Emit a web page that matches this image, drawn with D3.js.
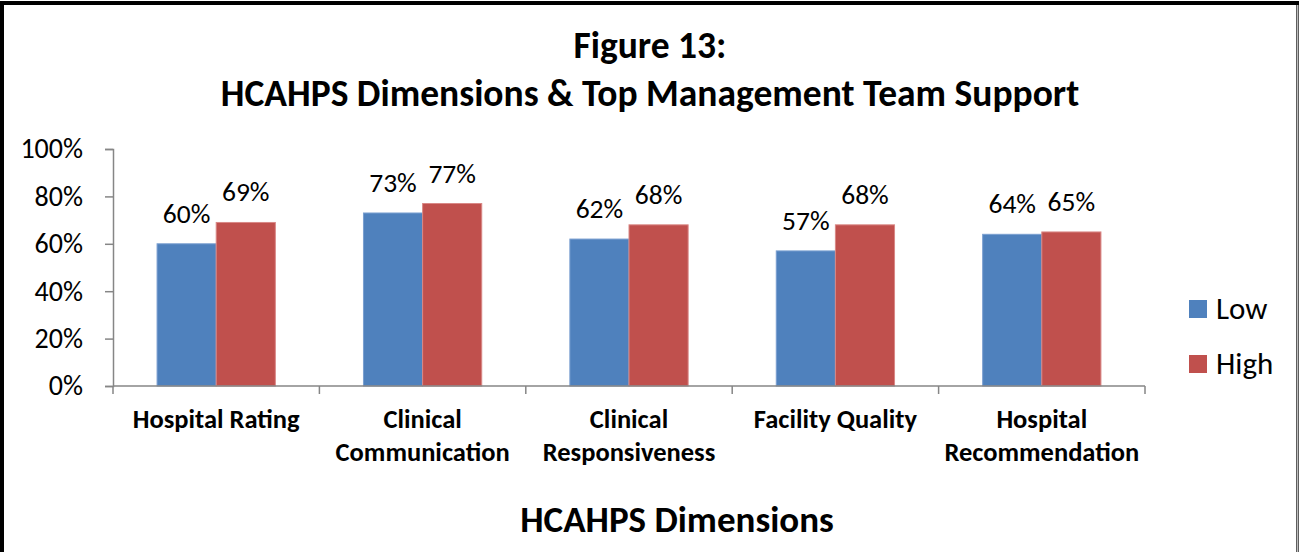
<!DOCTYPE html>
<html>
<head>
<meta charset="utf-8">
<script src="https://cdn.jsdelivr.net/npm/d3@7"></script>
<style>
  body { margin: 0; background: #fff; }
  svg { display: block; font-family: Calibri, Carlito, Lato, sans-serif; }
</style>
</head>
<body>
<div id="chart"></div>
<script>
/* DATA */
const categories = [
  ["Hospital Rating"],
  ["Clinical", "Communication"],
  ["Clinical", "Responsiveness"],
  ["Facility Quality"],
  ["Hospital", "Recommendation"]
];
const seriesNames = ["Low", "High"];
const lowValues = [0.60, 0.73, 0.62, 0.57, 0.64];
const highValues = [0.69, 0.77, 0.68, 0.68, 0.65];
const yTicks = [0, 0.2, 0.4, 0.6, 0.8, 1.0];
const colors = ["#4F81BD", "#C0504D"];

/* CONSTANTS */
const width = 1299, height = 552;
const plot = { left: 113, right: 1145, top: 149, bottom: 386 };

const svg = d3.select("#chart")
  .append("svg")
  .attr("width", width)
  .attr("height", height);

// frame
svg.append("rect")
  .attr("x", 2).attr("y", 3)
  .attr("width", width - 3).attr("height", height + 10)
  .attr("fill", "#fff")
  .attr("stroke", "#000")
  .attr("stroke-width", 4);
svg.append("line")
  .attr("x1", width - 1.5).attr("x2", width - 1.5)
  .attr("y1", 5).attr("y2", height)
  .attr("stroke", "#bdbdbd").attr("stroke-width", 2);

// scales
const x0 = d3.scaleBand()
  .domain(d3.range(categories.length))
  .range([plot.left, plot.right])
  .paddingInner(0.427)
  .paddingOuter(0.2135);
const x1 = d3.scaleBand()
  .domain(seriesNames)
  .range([0, x0.bandwidth()]);
const y = d3.scaleLinear()
  .domain([0, 1])
  .range([plot.bottom, plot.top]);

const rows = categories.map((c, i) => ({
  i,
  values: [
    { key: "Low", value: lowValues[i] },
    { key: "High", value: highValues[i] }
  ]
}));

// bars
const groups = svg.selectAll("g.grp")
  .data(rows)
  .join("g")
  .attr("class", "grp")
  .attr("transform", d => `translate(${x0(d.i)},0)`);

groups.selectAll("rect")
  .data(d => d.values)
  .join("rect")
  .attr("x", d => x1(d.key))
  .attr("y", d => y(d.value))
  .attr("width", x1.bandwidth())
  .attr("height", d => y(0) - y(d.value))
  .attr("fill", (d, j) => colors[j])
  .attr("stroke", (d, j) => j === 0 ? "#7a9fd0" : "#d98886")
  .attr("stroke-width", 1);

groups.selectAll("text.lbl")
  .data(d => d.values)
  .join("text")
  .attr("class", "lbl")
  .attr("x", d => x1(d.key) + x1.bandwidth() / 2)
  .attr("y", d => y(d.value) - 21)
  .attr("text-anchor", "middle")
  .attr("font-size", 27.5)
  .attr("fill", "#000")
  .text(d => Math.round(d.value * 100) + "%");

// y axis
const yAxis = svg.append("g")
  .attr("transform", `translate(${plot.left},0)`)
  .call(d3.axisLeft(y).tickValues(yTicks).tickFormat(d3.format(".0%")).tickSize(8).tickPadding(22));
yAxis.attr("font-family", null);
yAxis.select(".domain").attr("stroke", "#868686").attr("stroke-width", 1.5);
yAxis.selectAll(".tick line").attr("stroke", "#868686").attr("stroke-width", 1.5);
yAxis.selectAll(".tick text")
  .attr("font-size", 28).attr("fill", "#000");

// x axis line and category separators
const xAxis = svg.append("g");
xAxis.append("line")
  .attr("x1", plot.left).attr("x2", plot.right)
  .attr("y1", plot.bottom).attr("y2", plot.bottom)
  .attr("stroke", "#868686").attr("stroke-width", 1.5);
const step = (plot.right - plot.left) / categories.length;
xAxis.selectAll("line.sep")
  .data(d3.range(categories.length + 1))
  .join("line")
  .attr("class", "sep")
  .attr("x1", d => plot.left + d * step).attr("x2", d => plot.left + d * step)
  .attr("y1", plot.bottom).attr("y2", plot.bottom + 8)
  .attr("stroke", "#868686").attr("stroke-width", 1.5);

// category labels
xAxis.selectAll("text.cat")
  .data(categories)
  .join("text")
  .attr("class", "cat")
  .attr("text-anchor", "middle")
  .attr("font-size", 26.5)
  .attr("font-weight", "bold")
  .attr("fill", "#000")
  .each(function (d, i) {
    const cx = x0(i) + x0.bandwidth() / 2;
    d3.select(this).selectAll("tspan")
      .data(d)
      .join("tspan")
      .attr("x", cx)
      .attr("y", (t, k) => 428 + k * 33)
      .text(t => t);
  });

// titles
const title = svg.append("text")
  .attr("text-anchor", "middle")
  .attr("font-size", 37.5)
  .attr("font-weight", "bold")
  .attr("fill", "#000");
title.append("tspan").attr("x", 650).attr("y", 58).text("Figure 13:");
title.append("tspan").attr("x", 650).attr("y", 106).text("HCAHPS Dimensions & Top Management Team Support");

svg.append("text")
  .attr("x", 677).attr("y", 532)
  .attr("text-anchor", "middle")
  .attr("font-size", 37)
  .attr("font-weight", "bold")
  .attr("fill", "#000")
  .text("HCAHPS Dimensions");

// legend
const legend = svg.selectAll("g.leg")
  .data(seriesNames)
  .join("g")
  .attr("class", "leg")
  .attr("transform", (d, i) => `translate(1189,${300 + i * 55})`);
legend.append("rect")
  .attr("width", 18).attr("height", 18)
  .attr("fill", (d, i) => colors[i]);
legend.append("text")
  .attr("x", 27).attr("y", 19)
  .attr("font-size", 31)
  .attr("fill", "#000")
  .text(d => d);
</script>
</body>
</html>
